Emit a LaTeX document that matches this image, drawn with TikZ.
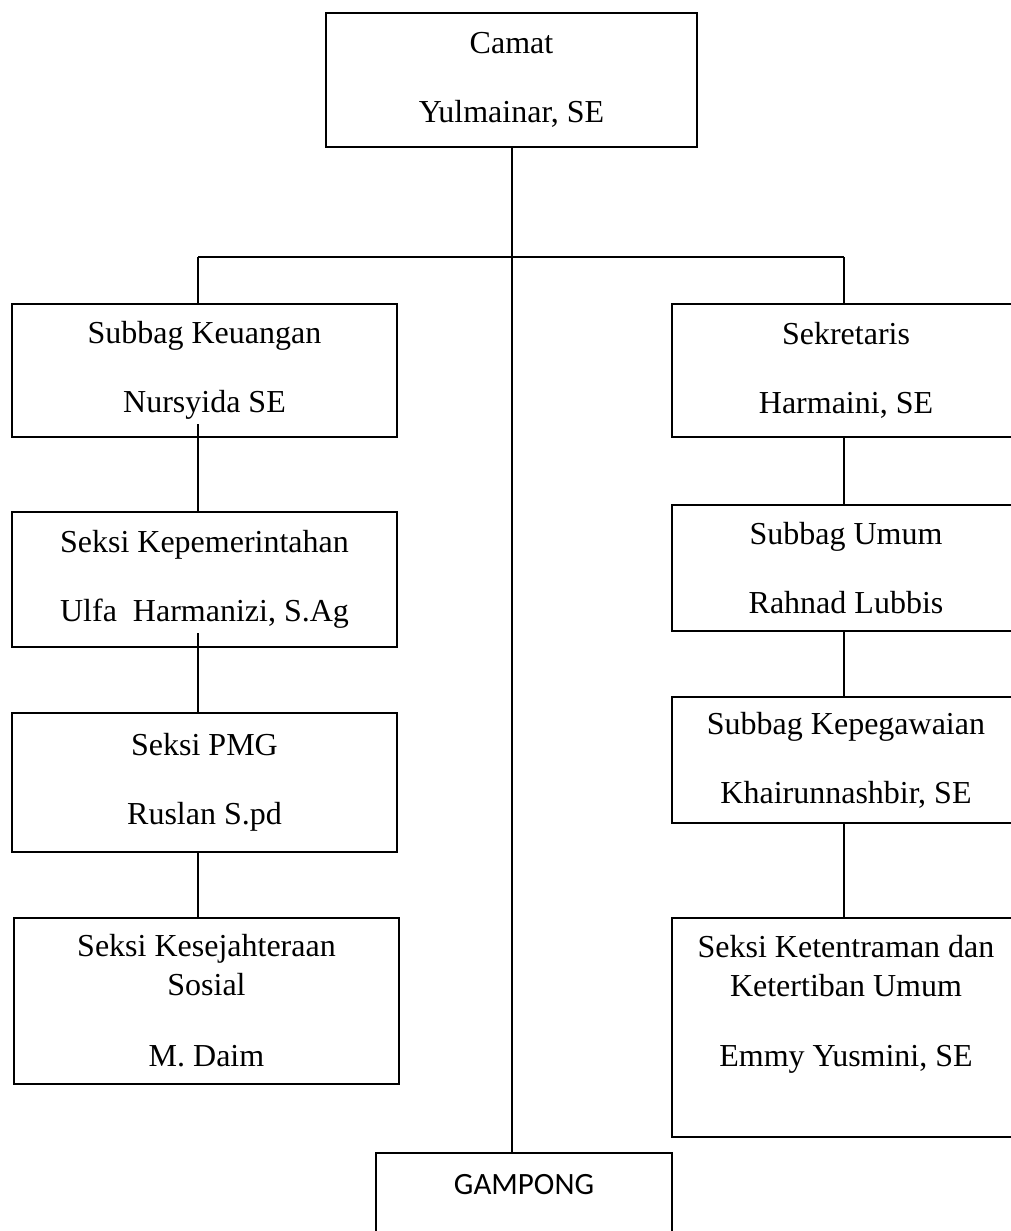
\documentclass[tikz,border=0pt]{standalone}
\usepackage{fontspec}
\setmainfont{Liberation Serif}
\newfontfamily\gampongfont{Carlito}
\usepackage{tikz}

\begin{document}
\begin{tikzpicture}[x=0.5pt,y=-0.5pt,line width=1pt,
  box/.style={draw,rectangle,align=center,inner sep=0pt,font=\fontsize{16}{19.5}\selectfont}]
\clip (0,0) rectangle (1011,1231);

% top
\node[box,minimum width=185.5pt,minimum height=67pt] (camat) at (511.5,80) {Camat\\[15pt]Yulmainar, SE};

% left column
\node[box,minimum width=192.5pt,minimum height=66.5pt] (keu) at (204.5,370.5) {Subbag Keuangan\\[15pt]Nursyida SE};
\node[box,minimum width=192.5pt,minimum height=67.5pt] (pem) at (204.5,579.5) {Seksi Kepemerintahan\\[15pt]Ulfa\ \ Harmanizi, S.Ag};
\node[box,minimum width=192.5pt,minimum height=69.5pt] (pmg) at (204.5,782.5) {Seksi PMG\\[15pt]Ruslan S.pd};
\node[box,minimum width=192.5pt,minimum height=83pt] (sos) at (206.5,1001) {Seksi Kesejahteraan\\Sosial\\[16pt]M. Daim};

% right column
\node[box,minimum width=174pt,minimum height=66.5pt] (sek) at (846,370.5) {Sekretaris\\[15pt]Harmaini, SE};
\node[box,minimum width=174pt,minimum height=63pt] (umum) at (846,568) {Subbag Umum\\[15pt]Rahnad Lubbis};
\node[box,minimum width=174pt,minimum height=63pt] (peg) at (846,760) {Subbag Kepegawaian\\[15pt]Khairunnashbir, SE};
\node[box,minimum width=174pt,minimum height=109.5pt] (tib) at (846,1027.5) {};
\node[align=center,inner sep=0pt,font=\fontsize{16}{19.5}\selectfont] (tib-t) at (846,1004) {Seksi Ketentraman dan\\Ketertiban Umum\\[15.5pt]Emmy Yusmini, SE};

% bottom
\node[draw,rectangle,minimum width=148pt,minimum height=60pt] (gampong) at (524,1213) {};
\node[font=\gampongfont\fontsize{15.5}{18}\selectfont,inner sep=0pt] (gampong-t) at (524,1185) {GAMPONG};

% lines
\coordinate (lbr) at (198,257);
\coordinate (rbr) at (844,257);
\draw (camat) -- (camat |- gampong.north);
\draw (lbr) -- (rbr);
\draw (lbr) -- (lbr |- keu.north);
\draw (rbr) -- (rbr |- sek.north);
\draw (lbr |- keu.south) ++(0,-14) -- (lbr |- pem.north);
\draw (lbr |- pem.south) ++(0,-15) -- (lbr |- pmg.north);
\draw (lbr |- pmg.south) -- (lbr |- sos.north);
\draw (rbr |- sek.south) -- (rbr |- umum.north);
\draw (rbr |- umum.south) -- (rbr |- peg.north);
\draw (rbr |- peg.south) -- (rbr |- tib.north);
\end{tikzpicture}
\end{document}
